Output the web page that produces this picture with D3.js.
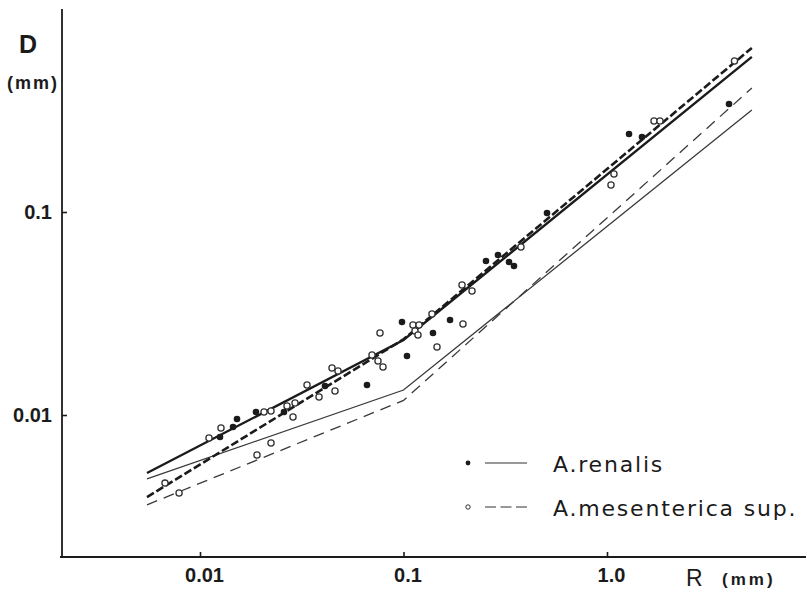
<!DOCTYPE html>
<html>
<head>
<meta charset="utf-8">
<script src="https://cdn.jsdelivr.net/npm/d3@7"></script>
<style>
  html, body { margin: 0; padding: 0; background: #fff; }
  svg { display: block; }
</style>
</head>
<body>
<svg id="chart" width="807" height="592"></svg>
<script>
// Radius R (mm) vs diameter D (mm), log-log

// A. renalis measurements [R, D]
const renalisPoints = [
  [0.01254, 0.00779], [0.01453, 0.00873], [0.01520, 0.00956], [0.01884, 0.01035],
  [0.02587, 0.01035], [0.04114, 0.01390], [0.06616, 0.01405], [0.09831, 0.02871],
  [0.1040, 0.01953], [0.1396, 0.02534], [0.1693, 0.02938], [0.2543, 0.05737],
  [0.2913, 0.06141], [0.3300, 0.05672], [0.3491, 0.05420], [0.5072, 0.0989],
  [1.283, 0.2422], [1.486, 0.2342], [3.977, 0.3404]
];

// A. mesenterica sup. measurements [R, D]
const mesentericaPoints = [
  [0.00673, 0.00462], [0.00789, 0.00413], [0.01107, 0.00770], [0.01268, 0.00863],
  [0.01906, 0.00635], [0.02063, 0.01035], [0.02233, 0.01046], [0.02233, 0.00728],
  [0.02676, 0.01107], [0.02864, 0.00978], [0.02930, 0.01146], [0.03357, 0.01405],
  [0.03845, 0.01227], [0.04453, 0.01704], [0.04766, 0.01647], [0.04606, 0.01313],
  [0.07002, 0.01975], [0.07492, 0.01845], [0.07929, 0.01723], [0.07664, 0.02534],
  [0.1113, 0.02775], [0.1192, 0.02775], [0.1139, 0.02593], [0.1178, 0.02477],
  [0.1380, 0.03145], [0.1461, 0.02163], [0.1960, 0.02807], [0.1939, 0.04370],
  [0.2171, 0.04082], [0.3778, 0.06725], [1.082, 0.1539], [1.046, 0.1358],
  [1.702, 0.2808], [1.821, 0.2808], [4.231, 0.5544]
];

// Fitted broken lines [R, D], break at R = 0.1
const renalisFitUpper      = [[0.00549, 0.00518], [0.1, 0.0234], [5.15, 0.581]];
const mesentericaFitUpper  = [[0.00549, 0.00394], [0.1, 0.0236], [5.15, 0.643]];
const renalisFitLower      = [[0.00549, 0.00484], [0.1, 0.01328], [5.15, 0.318]];
const mesentericaFitLower  = [[0.00549, 0.00361], [0.1, 0.0118], [5.15, 0.408]];

// Axis ticks
const xTicks = [0.01, 0.1, 1];
const xTickLabels = ["0.01", "0.1", "1.0"];
const yTicks = [0.01, 0.1];
const yTickLabels = ["0.01", "0.1"];

// Legend entries
const legendLabels = ["A.renalis", "A.mesenterica sup."];

const ink = "#1b1b1b";
const svg = d3.select("#chart");

const x = d3.scaleLog().domain([0.01, 1]).range([200, 607]);
const y = d3.scaleLog().domain([0.01, 0.1]).range([415, 212]);

const axisX0 = 62, axisY0 = 557;

// Frame lines
svg.append("line")
  .attr("x1", axisX0).attr("x2", axisX0)
  .attr("y1", 9).attr("y2", axisY0 + 1)
  .attr("stroke", ink).attr("stroke-width", 1.8);
svg.append("line")
  .attr("x1", axisX0 - 2).attr("x2", 806)
  .attr("y1", axisY0).attr("y2", axisY0)
  .attr("stroke", ink).attr("stroke-width", 1.8);

// X axis
const gx = svg.append("g")
  .attr("transform", `translate(0,${axisY0})`)
  .call(d3.axisBottom(x)
    .tickValues(xTicks)
    .tickFormat((d, i) => xTickLabels[i])
    .tickSizeInner(-5).tickSizeOuter(0).tickPadding(11));
gx.select(".domain").remove();
gx.selectAll("line").attr("stroke", ink).attr("stroke-width", 1.6);
gx.selectAll("text")
  .attr("fill", ink)
  .attr("dx", 4)
  .style("font-family", "'Liberation Sans', Arial, sans-serif")
  .style("font-weight", "bold")
  .style("font-size", "20px");

// Y axis
const gy = svg.append("g")
  .attr("transform", `translate(${axisX0},0)`)
  .call(d3.axisLeft(y)
    .tickValues(yTicks)
    .tickFormat((d, i) => yTickLabels[i])
    .tickSizeInner(-5).tickSizeOuter(0).tickPadding(10));
gy.select(".domain").remove();
gy.selectAll("line").attr("stroke", ink).attr("stroke-width", 1.6);
gy.selectAll("text")
  .attr("fill", ink)
  .style("font-family", "'Liberation Sans', Arial, sans-serif")
  .style("font-weight", "bold")
  .style("font-size", "20px");

// Axis titles
svg.append("text")
  .attr("x", 28).attr("y", 53)
  .attr("text-anchor", "middle")
  .attr("fill", ink)
  .style("font-family", "'Liberation Sans', Arial, sans-serif")
  .style("font-weight", "bold").style("font-size", "25px")
  .text("D");
svg.append("text")
  .attr("x", 33).attr("y", 89)
  .attr("text-anchor", "middle")
  .attr("fill", ink)
  .style("font-family", "'Liberation Sans', Arial, sans-serif")
  .style("font-weight", "bold").style("font-size", "18px")
  .style("letter-spacing", "2px")
  .text("(mm)");
svg.append("text")
  .attr("x", 686).attr("y", 586)
  .attr("fill", ink)
  .style("font-family", "'Liberation Sans', Arial, sans-serif")
  .style("font-size", "23px")
  .text("R");
svg.append("text")
  .attr("x", 722).attr("y", 585)
  .attr("fill", ink)
  .style("font-family", "'Liberation Sans', Arial, sans-serif")
  .style("font-weight", "bold").style("font-size", "17px")
  .style("letter-spacing", "3px")
  .text("(mm)");

// Fitted lines
const line = d3.line().x(d => x(d[0])).y(d => y(d[1]));
const fits = [
  { data: renalisFitLower, width: 1.3, dash: null, color: "#3a3a3a" },
  { data: mesentericaFitLower, width: 1.3, dash: "11,7", color: "#3a3a3a" },
  { data: mesentericaFitUpper, width: 2.6, dash: "8,3", color: ink },
  { data: renalisFitUpper, width: 2.4, dash: null, color: ink }
];
svg.append("g").selectAll("path")
  .data(fits)
  .join("path")
  .attr("d", d => line(d.data))
  .attr("fill", "none")
  .attr("stroke", d => d.color)
  .attr("stroke-width", d => d.width)
  .attr("stroke-dasharray", d => d.dash);

// Data points
svg.append("g").selectAll("circle")
  .data(mesentericaPoints)
  .join("circle")
  .attr("cx", d => x(d[0])).attr("cy", d => y(d[1]))
  .attr("r", 3.1)
  .attr("fill", "#fff")
  .attr("stroke", "#333")
  .attr("stroke-width", 1.3);
svg.append("g").selectAll("circle")
  .data(renalisPoints)
  .join("circle")
  .attr("cx", d => x(d[0])).attr("cy", d => y(d[1]))
  .attr("r", 3.3)
  .attr("fill", ink);

// Legend
const legend = svg.append("g");
const legendRows = [
  { label: legendLabels[0], cy: 463, filled: true, dash: null },
  { label: legendLabels[1], cy: 507, filled: false, dash: "11,4.5" }
];
legendRows.forEach(r => {
  legend.append("circle")
    .attr("cx", 468).attr("cy", r.cy)
    .attr("r", r.filled ? 2.4 : 2.2)
    .attr("fill", r.filled ? ink : "#fff")
    .attr("stroke", r.filled ? "none" : "#333")
    .attr("stroke-width", 1);
  legend.append("line")
    .attr("x1", 485).attr("x2", 527)
    .attr("y1", r.cy).attr("y2", r.cy)
    .attr("stroke", "#333").attr("stroke-width", 1.2)
    .attr("stroke-dasharray", r.dash);
  legend.append("text")
    .attr("x", 553).attr("y", r.cy + 9)
    .attr("fill", ink)
    .style("font-family", "'DejaVu Sans', sans-serif")
    .style("font-size", "22px")
    .style("letter-spacing", "1.8px")
    .text(r.label);
});
</script>
</body>
</html>
